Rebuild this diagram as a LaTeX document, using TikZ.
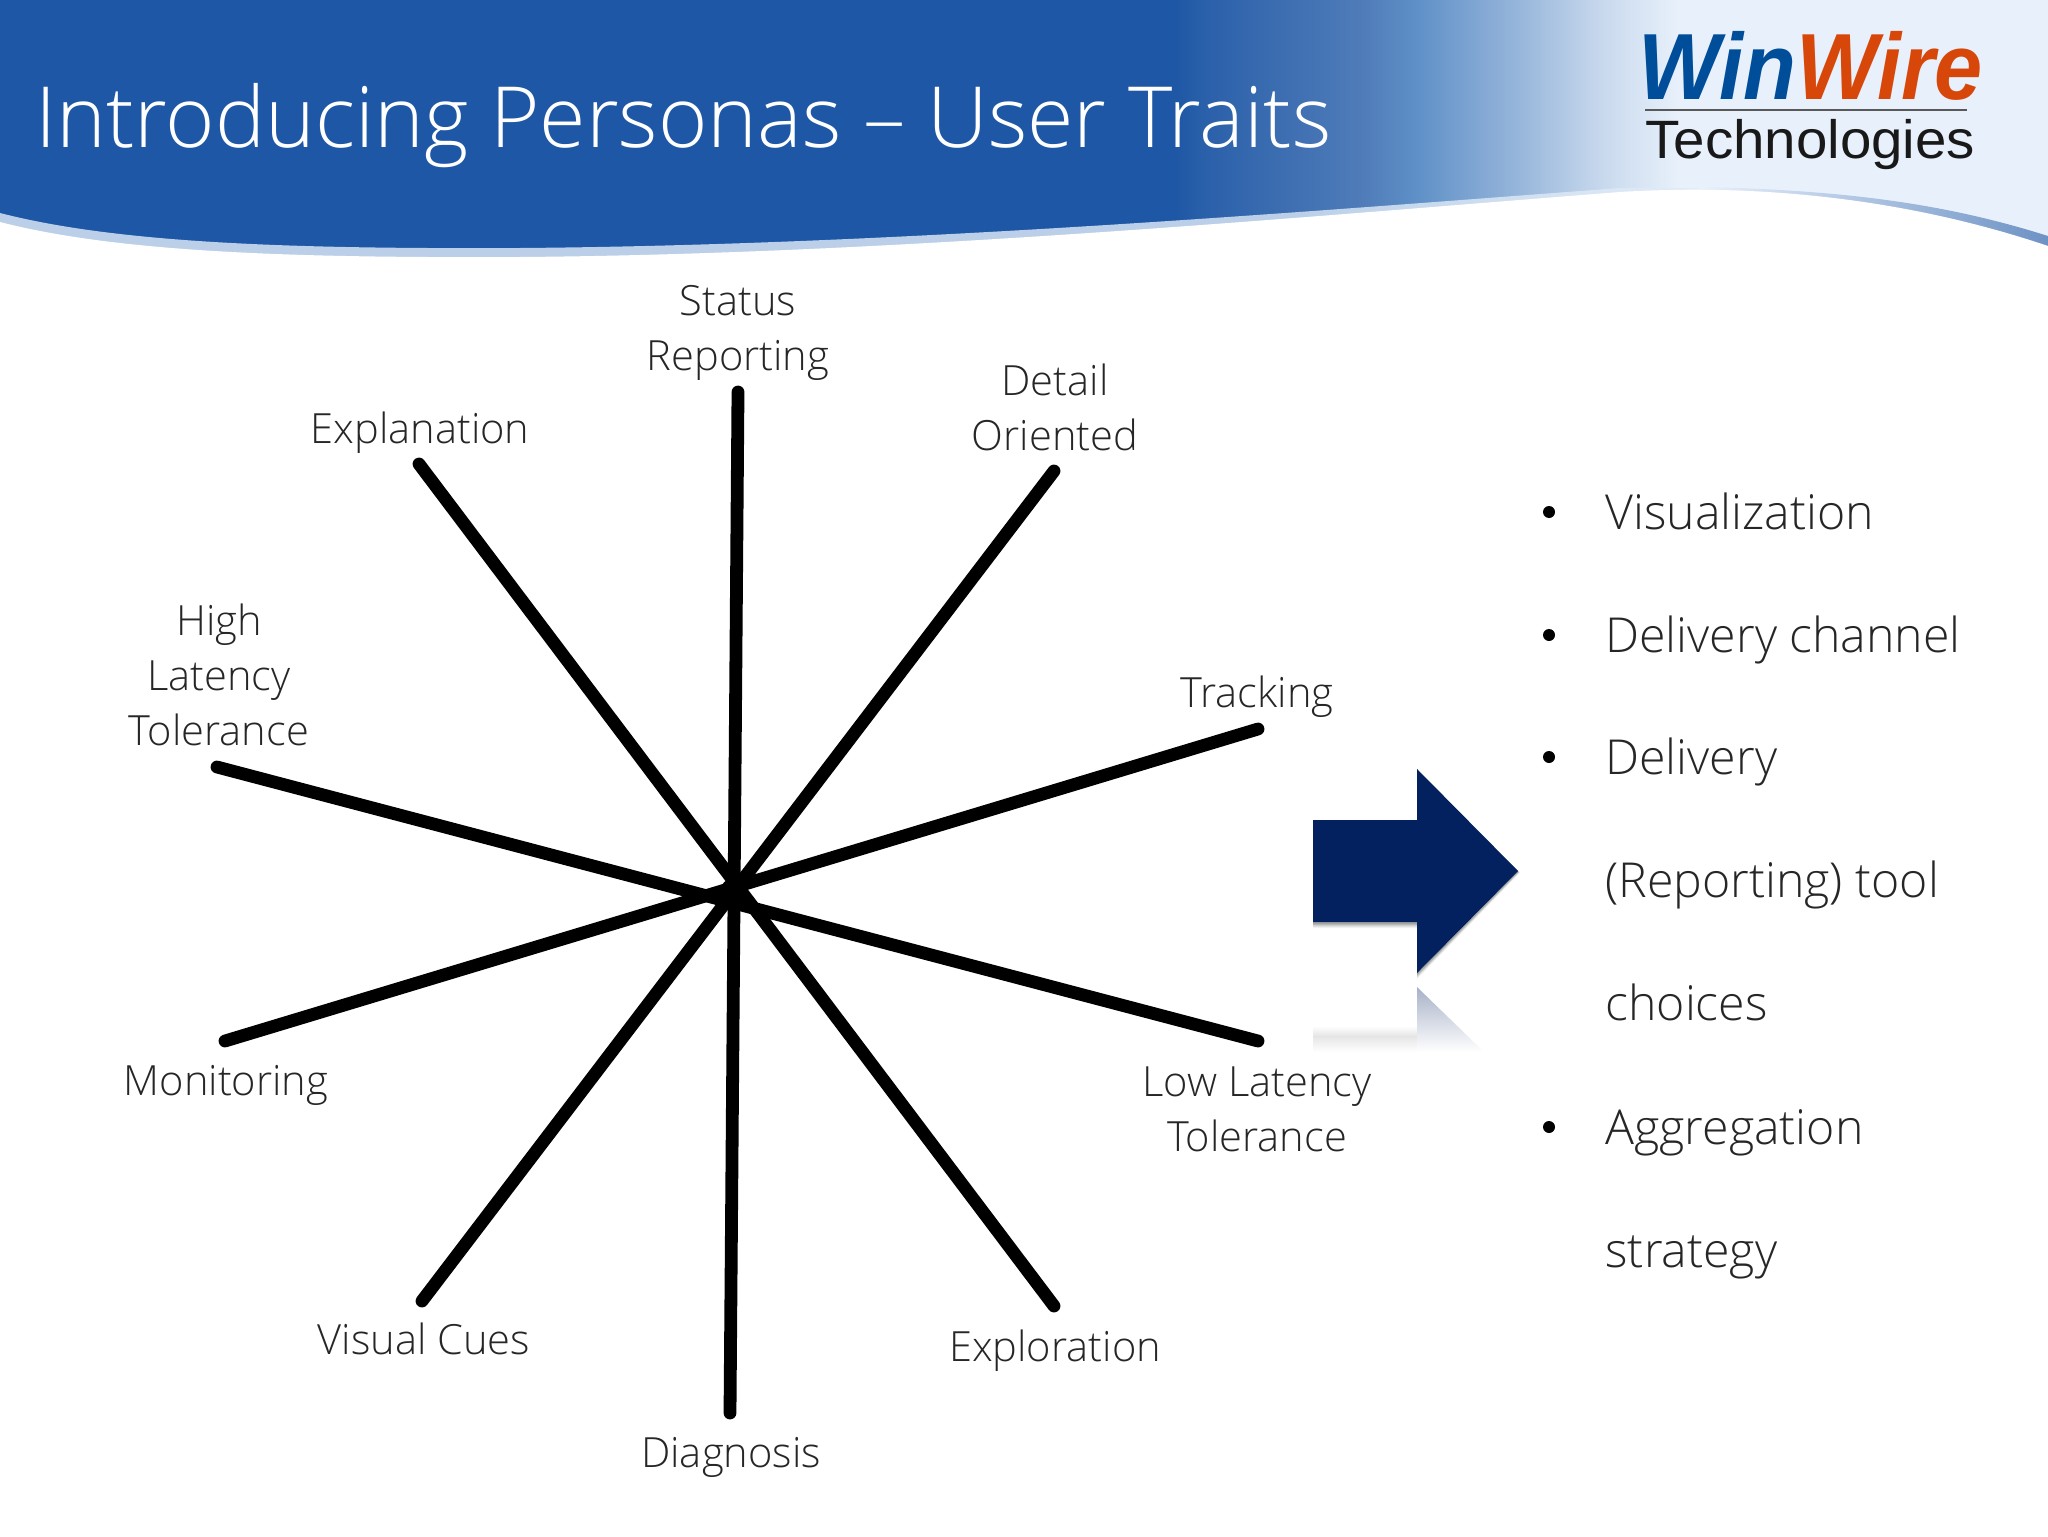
\documentclass[tikz,border=0pt]{standalone}
\usepackage{fontspec}
\setmainfont{Open Sans}[UprightFont=* Light]
\newfontfamily\logofont{Liberation Sans}
\definecolor{hdrblue}{HTML}{1E57A5}
\definecolor{rim}{HTML}{BBD0E8}
\definecolor{pale}{HTML}{E8F1FB}
\definecolor{stepa}{HTML}{5F90C7}
\definecolor{stepb}{HTML}{9AB8DC}
\definecolor{stepc}{HTML}{CADAEE}
\definecolor{arrowblue}{HTML}{03205F}
\pgfdeclarehorizontalshading{hdrshade}{100bp}{
 color(0bp)=(hdrblue); color(53.7bp)=(hdrblue); color(54.3bp)=(hdrblue!95!white);
 color(58.25bp)=(hdrblue!78!white); color(59.6bp)=(stepa);
 color(62.2bp)=(stepb); color(64.2bp)=(stepc);
 color(66bp)=(pale); color(100bp)=(pale)}
\tikzset{
 x=0.5pt,y=-0.5pt,
 ray/.style={line width=6.4pt,line cap=round,black},
 trait/.style={align=center,inner sep=0pt,text=black!85,font=\fontsize{20.8}{27.5}\selectfont},
 bulletitem/.style={anchor=mid west,inner sep=0pt,text=black!85,font=\fontsize{24.1}{26}\selectfont},
 dotmark/.style={circle,fill=black,inner sep=0pt,minimum size=6pt},
}
\begin{document}
\begin{tikzpicture}
\useasboundingbox (0,0) rectangle (2048,1536);
\fill[white] (0,0) rectangle (2048,1536);
% header band
\shade[shading=hdrshade] (0,0) rectangle (2048,262);
% rim under the band
\begin{scope}
\clip (0,213) .. controls (120,244) and (300,249) .. (520,248)
  .. controls (900,245) and (1300,212) .. (1620,188) -- (1760,188) -- (1760,262) -- (0,262) -- cycle;
\fill[rim] (0,180) rectangle (1300,262);
\shade[left color=rim,right color=pale] (1299,180) rectangle (1760,262);
\end{scope}
\shade[left color=pale,right color=hdrblue!65!white] (1700,187)
  .. controls (1850,190) and (1950,205) .. (2048,236) -- (2048,262) -- (1700,262) -- cycle;
% white body
\fill[white] (0,222) .. controls (120,253) and (300,258) .. (520,257)
  .. controls (900,254) and (1300,217) .. (1620,192)
  .. controls (1750,184) and (1900,196) .. (2048,246) -- (2048,290) -- (0,290) -- cycle;
\node[anchor=base west,inner sep=0pt,text=white,font=\fontsize{42.2}{50}\selectfont] (title) at (35,148) {Introducing Personas – User Traits};
% logo
\node[anchor=base west,inner sep=0pt,font=\logofont\bfseries\itshape\fontsize{47}{50}\selectfont] (logoa) at (1638,99) {\scalebox{0.92}[1]{\textcolor[HTML]{004E9A}{Win}\textcolor[HTML]{D8470A}{Wire}}};
\coordinate (rulea) at (1645,110); \coordinate (ruleb) at (1967,110);
\draw[line width=1.3pt,black!65] (rulea) -- (ruleb);
\node[anchor=base west,inner sep=0pt,text=black!90,font=\logofont\fontsize{27}{28}\selectfont] (logob) at (1645,158) {\scalebox{1.046}[1]{Technologies}};
% rays
\coordinate (s) at (738,392); \coordinate (d) at (730,1413);
\coordinate (do) at (1054,471); \coordinate (v) at (422,1301);
\coordinate (t) at (1258,729); \coordinate (m) at (225,1041);
\coordinate (l) at (1258,1041); \coordinate (h) at (217,767);
\coordinate (e) at (1054,1306); \coordinate (x) at (419,464);
\draw[ray] (s) -- (d);
\draw[ray] (do) -- (v);
\draw[ray] (t) -- (m);
\draw[ray] (l) -- (h);
\draw[ray] (e) -- (x);
\fill[black] (734,892) circle (14);
% labels
\node[trait] (ls) at (738,333) {Status\\Reporting};
\node[trait] (ldo) at (1055,407) {Detail\\Oriented};
\node[trait] (lt) at (1257,697) {Tracking};
\node[trait] (lx) at (420,433) {Explanation};
\node[trait] (lh) at (219,675) {High\\Latency\\Tolerance};
\node[trait] (lm) at (226,1085) {Monitoring};
\node[trait] (ll) at (1257,1109) {Low Latency\\Tolerance};
\node[trait] (le) at (1055,1351) {Exploration};
\node[trait] (lv) at (424,1339) {Visual Cues};
\node[trait] (ld) at (731,1457) {Diagnosis};
% arrow shadow, reflection, arrow
\foreach \o/\a in {6/0.05,5/0.06,4/0.08,3/0.10,2/0.12}{
 \fill[black,opacity=\a] (1313,820+\o) -- (1417,820+\o) -- (1417,769+\o) -- (1518+\o*0.3,871+\o*0.3) -- (1417,973+\o) -- (1417,922+\o) -- (1313,922+\o) -- cycle;
}
\shade[top color=white,bottom color=black!10] (1313,1026) -- (1417,1026) -- (1417,1036) -- (1313,1036) -- cycle;
\shade[top color=black!10,bottom color=white] (1313,1036) -- (1417,1036) -- (1417,1052) -- (1313,1052) -- cycle;
\shade[top color=arrowblue!35!white,bottom color=white] (1417,987) -- (1484,1052) -- (1417,1052) -- cycle;
\fill[arrowblue] (1313,820) -- (1417,820) -- (1417,769) -- (1518,871) -- (1417,973) -- (1417,922) -- (1313,922) -- cycle;
% bullets
\node[bulletitem] (b1) at (1605,524) {Visualization};
\node[bulletitem] (b2) at (1605,647) {Delivery channel};
\node[bulletitem] (b3) at (1605,769) {Delivery};
\node[bulletitem] (b3b) at (1605,892) {(Reporting) tool};
\node[bulletitem] (b3c) at (1605,1015) {choices};
\node[bulletitem] (b4) at (1605,1139) {Aggregation};
\node[bulletitem] (b4b) at (1605,1262) {strategy};
\node[dotmark] (d1) at (1549,512) {};
\node[dotmark] (d2) at (1549,635) {};
\node[dotmark] (d3) at (1549,757) {};
\node[dotmark] (d4) at (1549,1127) {};
\end{tikzpicture}
\end{document}
